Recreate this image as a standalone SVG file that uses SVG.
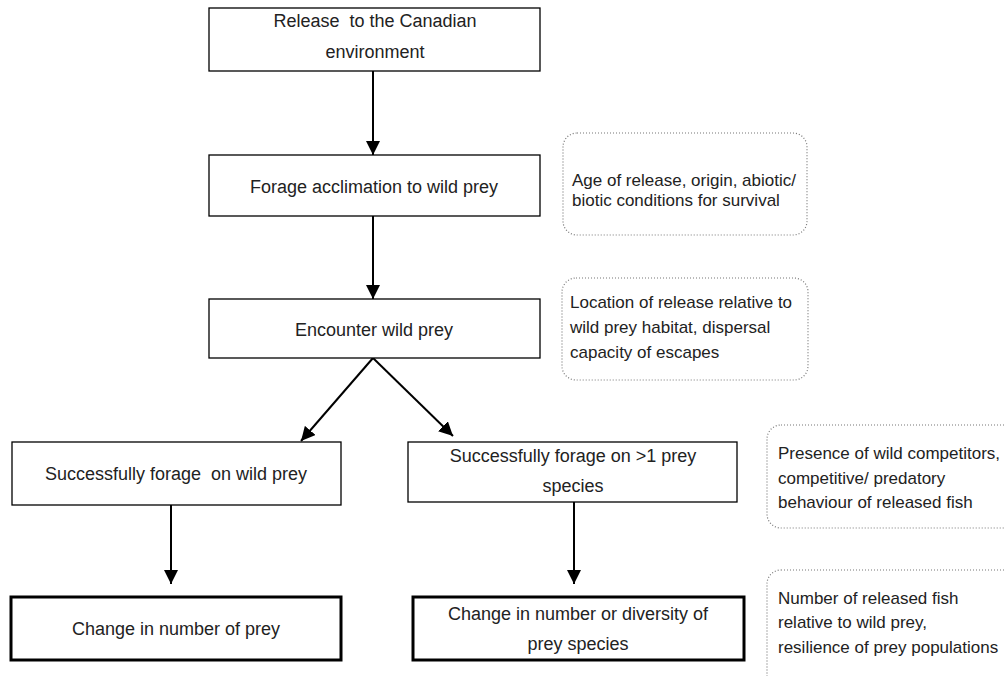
<svg xmlns="http://www.w3.org/2000/svg" width="1005" height="676" viewBox="0 0 1005 676">
<style>
.box{fill:#fff;stroke:#000;stroke-width:1.3}
.thick{fill:#fff;stroke:#000;stroke-width:3}
.note{fill:#fff;stroke:#777;stroke-width:1.2;stroke-dasharray:1 2}
.t{font-family:"Liberation Sans",Arial,sans-serif;font-size:18px;fill:#222;text-anchor:middle;white-space:pre}
.n{font-family:"Liberation Sans",Arial,sans-serif;font-size:17px;fill:#222}
.c{stroke:#000;stroke-width:2;fill:none;marker-end:url(#ah)}
</style>
<defs>
<marker id="ah" viewBox="0 0 10 10" refX="10" refY="5" markerWidth="7" markerHeight="7" markerUnits="strokeWidth" orient="auto">
<path d="M0,0 L10,5 L0,10 z" fill="#000"/>
</marker>
</defs>
<g id="connectors">
<line class="c" x1="373" y1="71" x2="373" y2="155"/>
<line class="c" x1="373" y1="216" x2="373" y2="299"/>
<line class="c" x1="373" y1="358" x2="301" y2="441"/>
<line class="c" x1="373" y1="358" x2="453" y2="436"/>
<line class="c" x1="171" y1="505" x2="171" y2="584"/>
<line class="c" x1="574" y1="502" x2="574" y2="584"/>
</g>
<g id="n1"><rect class="box" x="209" y="8" width="331" height="63"/>
<text class="t" x="375" y="27" xml:space="preserve">Release  to the Canadian</text>
<text class="t" x="375" y="58">environment</text></g>
<g id="n2"><rect class="box" x="209" y="155" width="331" height="61"/>
<text class="t" x="374" y="193">Forage acclimation to wild prey</text></g>
<g id="n3"><rect class="box" x="209" y="299" width="331" height="59"/>
<text class="t" x="374" y="336">Encounter wild prey</text></g>
<g id="n4"><rect class="box" x="12" y="442" width="329" height="63"/>
<text class="t" x="176" y="480" xml:space="preserve">Successfully forage  on wild prey</text></g>
<g id="n5"><rect class="box" x="408" y="442" width="329" height="60"/>
<text class="t" x="573" y="462">Successfully forage on &gt;1 prey</text>
<text class="t" x="573" y="492">species</text></g>
<g id="n6"><rect class="thick" x="11" y="597" width="330" height="63"/>
<text class="t" x="176" y="635">Change in number of prey</text></g>
<g id="n7"><rect class="thick" x="413" y="597" width="331" height="63"/>
<text class="t" x="578" y="620">Change in number or diversity of</text>
<text class="t" x="578" y="650">prey species</text></g>
<g id="note1"><rect class="note" x="563" y="133" width="244" height="102" rx="14"/>
<text class="n" x="572" y="186">Age of release, origin, abiotic/</text>
<text class="n" x="572" y="206">biotic conditions for survival</text></g>
<g id="note2"><rect class="note" x="562" y="278" width="246" height="102" rx="14"/>
<text class="n" x="570" y="308">Location of release relative to</text>
<text class="n" x="570" y="333">wild prey habitat, dispersal</text>
<text class="n" x="570" y="358">capacity of escapes</text></g>
<g id="note3"><rect class="note" x="767" y="425" width="260" height="103" rx="14"/>
<text class="n" x="778" y="459">Presence of wild competitors,</text>
<text class="n" x="778" y="484">competitive/ predatory</text>
<text class="n" x="778" y="508">behaviour of released fish</text></g>
<g id="note4"><rect class="note" x="767" y="570" width="260" height="120" rx="14"/>
<text class="n" x="778" y="604">Number of released fish</text>
<text class="n" x="778" y="628">relative to wild prey,</text>
<text class="n" x="778" y="653">resilience of prey populations</text></g>
</svg>
